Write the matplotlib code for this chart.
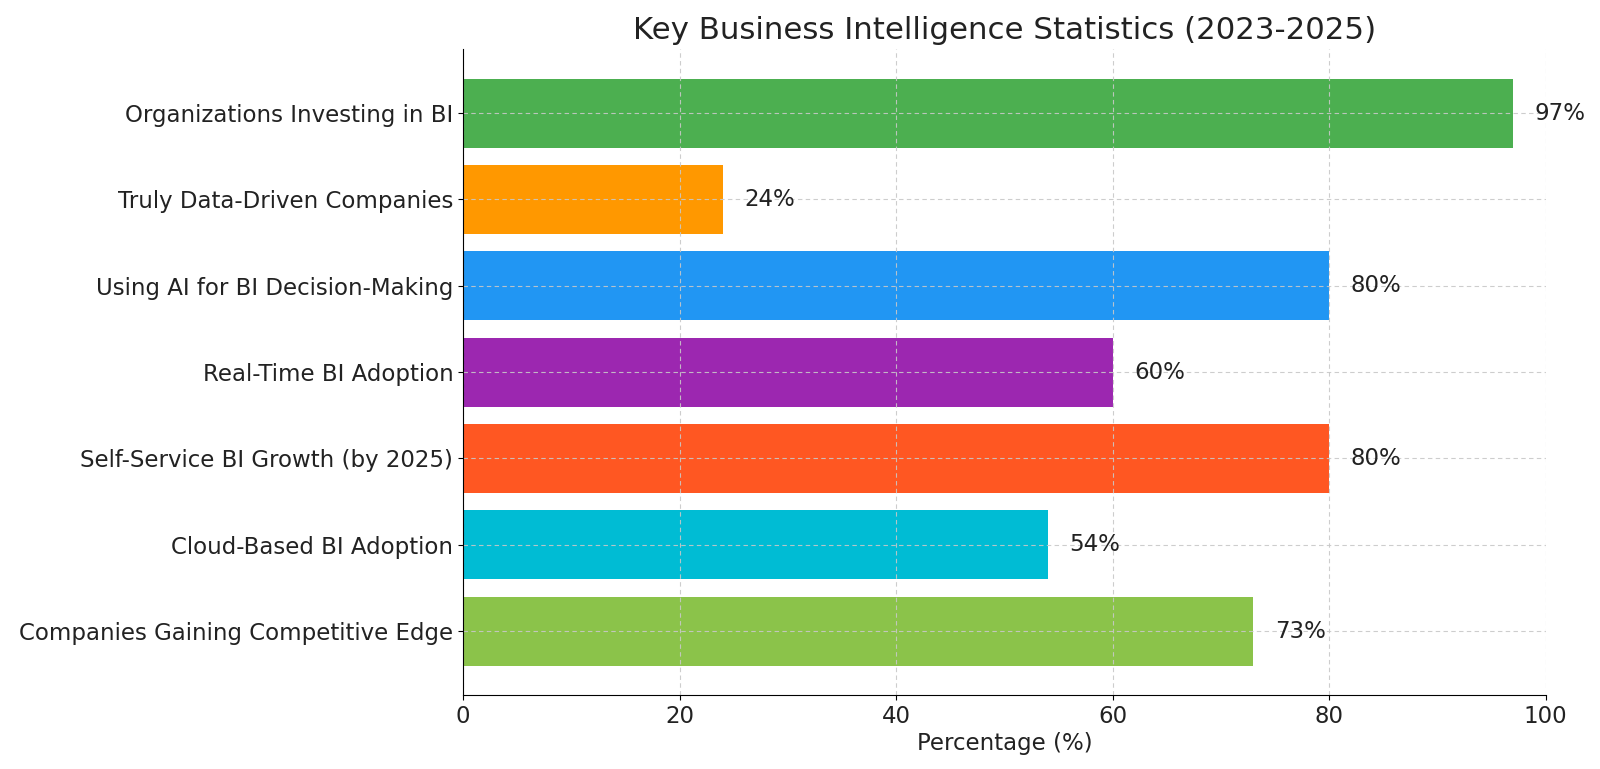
import matplotlib
matplotlib.use("Agg")
import matplotlib.pyplot as plt

categories = [
    "Organizations Investing in BI",
    "Truly Data-Driven Companies",
    "Using AI for BI Decision-Making",
    "Real-Time BI Adoption",
    "Self-Service BI Growth (by 2025)",
    "Cloud-Based BI Adoption",
    "Companies Gaining Competitive Edge",
]
values = [97, 24, 80, 60, 80, 54, 73]
colors = ["#4CAF50", "#FF9800", "#2196F3", "#9C27B0", "#FF5722", "#00BCD4", "#8BC34A"]
xticks = [0, 20, 40, 60, 80, 100]

fig = plt.figure(figsize=(16, 7.69), dpi=100)
ax = fig.add_axes([0.2894, 0.0962, 0.966 - 0.2894, 0.936 - 0.0962])

ax.barh(categories, values, color=colors, height=0.8)
ax.invert_yaxis()
ax.set_xlim(0, 100)
ax.set_xticks(xticks)

for i, v in enumerate(values):
    ax.text(v + 2, i, f"{v}%", va="center", ha="left", fontsize=16.5, color="#222222")

ax.set_xlabel("Percentage (%)", fontsize=16.5, color="#222222", labelpad=3)
ax.set_title("Key Business Intelligence Statistics (2023-2025)", fontsize=22.2, color="#222222", pad=7)
ax.tick_params(axis="both", labelsize=16.5, labelcolor="#222222")
ax.grid(True, linestyle=(0, (4, 3)), color="#c8c8c8", alpha=0.9, linewidth=0.8)
ax.spines["top"].set_visible(False)
ax.spines["right"].set_visible(False)

fig.savefig("out.png", dpi=100)
